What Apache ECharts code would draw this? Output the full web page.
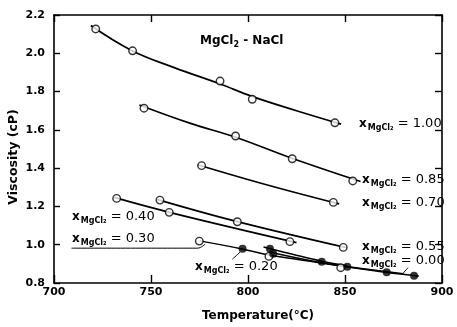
<!DOCTYPE html>
<html><head><meta charset="utf-8">
<script src="https://cdn.jsdelivr.net/npm/echarts@6/dist/echarts.min.js"></script>
<style>html,body{margin:0;padding:0;background:#fff}#c{width:457px;height:327px}</style>
</head><body><div id="c"></div>
<script>
// ---- data ----
const xTicks = [700, 750, 800, 850, 900];
const yTicks = [0.8, 1.0, 1.2, 1.4, 1.6, 1.8, 2.0, 2.2];

// measured points [T(°C), viscosity(cP)]
const pts100 = [[721.5, 2.127], [740.5, 2.013], [785.6, 1.855], [802.2, 1.760], [844.8, 1.637]];
const pts085 = [[746.4, 1.713], [793.6, 1.568], [822.8, 1.449], [854.0, 1.333]];
const pts070 = [[776.1, 1.413], [844.0, 1.221]];
const pts055 = [[754.6, 1.233], [794.5, 1.120], [849.1, 0.986]];
const pts040 = [[732.3, 1.242], [759.4, 1.169], [821.6, 1.016]];
const pts030 = [[774.9, 1.019], [810.8, 0.939], [847.8, 0.880]];
const pts020 = [[797.2, 0.979], [811.3, 0.979]];
const pts000 = [[813.0, 0.953], [838.0, 0.911], [851.2, 0.885], [871.5, 0.856], [885.6, 0.838]];

// fitted curves as drawn in the reference
const fit100 = [[719, 2.145], [740, 2.015], [762, 1.925], [785, 1.842], [802, 1.775], [825, 1.700], [848, 1.630]];
const fit085 = [[744, 1.730], [770, 1.635], [794, 1.560], [823, 1.450], [858, 1.330]];
const fit070 = [[774, 1.418], [810, 1.312], [847, 1.213]];
const fit055 = [[753, 1.237], [794, 1.122], [851, 0.984]];
const fit040 = [[731, 1.247], [760, 1.168], [825, 1.011]];
const fit030 = [[775, 1.020], [797, 0.978], [811, 0.946], [838, 0.905], [848, 0.890], [880, 0.848]];
const fit020 = [[808, 0.988], [823, 0.950], [838, 0.914], [851, 0.890]];
const fit000 = [[811, 0.962], [838, 0.906], [871, 0.856], [888, 0.836]];
const lead030 = [[709, 0.982], [774, 0.982], [778, 1.004]];
const lead020 = [[792, 0.925], [796, 0.962]];
const lead000 = [[879.5, 0.846], [882.5, 0.880]];

const labelValues = ['1.00', '0.85', '0.70', '0.55', '0.00', '0.40', '0.30', '0.20'];
const titleText = 'MgCl₂ - NaCl';
const xName = 'Temperature(°C)';
const yName = 'Viscosity (cP)';

// ---- chart ----
const FONT = 'DejaVu Sans';
const chart = echarts.init(document.getElementById('c'), null, {renderer: 'canvas'});

function lineS(data, w) {
  return {type: 'line', data: data, smooth: 0.4, showSymbol: false, symbol: 'none',
    lineStyle: {color: '#000', width: w || 1.7}, silent: true, z: 2, xAxisIndex: 0, yAxisIndex: 0};
}
function openS(data) {
  return {type: 'scatter', data: data, symbol: 'circle', symbolSize: 7.5,
    itemStyle: {color: '#fff', borderColor: '#000', borderWidth: 1.4}, z: 5, xAxisIndex: 0, yAxisIndex: 0};
}
function fillS(data) {
  return {type: 'scatter', data: data, symbol: 'circle', symbolSize: 8,
    itemStyle: {color: '#000'}, z: 5, xAxisIndex: 0, yAxisIndex: 0};
}

const rich = {
  x: {fontFamily: FONT, fontSize: 12, fontWeight: 'bold', fill: '#000', padding: [0, 1, 0, 0]},
  s: {fontFamily: FONT, fontSize: 8, fontWeight: 'bold', fill: '#000', padding: [8, 0, 0, 0]},
  v: {fontFamily: FONT, fontSize: 13, fill: '#000'}
};
function lbl(val, x, y) {
  return {type: 'text', x: x, y: y, z: 10,
    style: {text: '{x|x}{s|MgCl₂}{v| = ' + val + '}', rich: rich, verticalAlign: 'middle', fill: '#000'}};
}
const lblPos = [[359, 124], [362, 180], [362, 203], [362, 247], [362, 261], [72, 217], [72, 239], [195, 267]];

const axisLine = {show: true, lineStyle: {color: '#000', width: 1.6}};
const option = {
  animation: false,
  backgroundColor: '#fff',
  grid: {left: 54, right: 15, top: 15, bottom: 44, containLabel: false},
  xAxis: [
    {type: 'value', min: xTicks[0], max: xTicks[xTicks.length - 1], interval: 50, position: 'bottom',
      axisLine: axisLine, axisTick: {show: true, inside: true, length: 8, lineStyle: {color: '#000', width: 1.4}},
      axisLabel: {color: '#000', fontFamily: FONT, fontSize: 11, fontWeight: 'bold', margin: 4,
        showMinLabel: true, showMaxLabel: true},
      splitLine: {show: false}},
    {type: 'value', min: xTicks[0], max: xTicks[xTicks.length - 1], interval: 50, position: 'top',
      axisLine: axisLine, axisTick: {show: true, inside: true, length: 7, lineStyle: {color: '#000', width: 1.4}},
      axisLabel: {show: false}, splitLine: {show: false}}
  ],
  yAxis: [
    {type: 'value', min: yTicks[0], max: yTicks[yTicks.length - 1], interval: 0.2, position: 'left',
      axisLine: axisLine, axisTick: {show: true, inside: true, length: 6, lineStyle: {color: '#000', width: 1.4}},
      axisLabel: {color: '#000', fontFamily: FONT, fontSize: 11, fontWeight: 'bold', margin: 9,
        formatter: v => v.toFixed(1)},
      splitLine: {show: false}},
    {type: 'value', min: yTicks[0], max: yTicks[yTicks.length - 1], interval: 0.2, position: 'right',
      axisLine: axisLine, axisTick: {show: true, inside: true, length: 7, lineStyle: {color: '#000', width: 1.4}},
      axisLabel: {show: false}, splitLine: {show: false}}
  ],
  series: [
    lineS(fit100), lineS(fit085), lineS(fit070), lineS(fit055), lineS(fit040),
    lineS(fit030, 1.5), lineS(fit020, 1.5), lineS(fit000, 1.6),
    lineS(lead030, 1.0), lineS(lead020, 1.0), lineS(lead000, 1.0),
    openS(pts100), openS(pts085), openS(pts070), openS(pts055), openS(pts040), openS(pts030),
    fillS(pts020), fillS(pts000)
  ],
  graphic: [
    {type: 'text', x: 200, y: 41, z: 10, style: {text: '{a|MgCl}{b|2}{a| - NaCl}', verticalAlign: 'middle',
      rich: {a: {fontFamily: FONT, fontSize: 12, fontWeight: 'bold', fill: '#000'},
             b: {fontFamily: FONT, fontSize: 8, fontWeight: 'bold', fill: '#000', padding: [7, 0, 0, 0]}}}},
    {type: 'text', x: 258, y: 316, z: 10, style: {text: xName, fontFamily: FONT, fontSize: 12, fontWeight: 'bold',
      fill: '#000', align: 'center', verticalAlign: 'middle'}},
    {type: 'text', x: 14, y: 157, rotation: Math.PI / 2, z: 10, style: {text: yName, fontFamily: FONT, fontSize: 12.5,
      fontWeight: 'bold', fill: '#000', align: 'center', verticalAlign: 'middle'}}
  ].concat(labelValues.map((v, i) => lbl(v, lblPos[i][0], lblPos[i][1])))
};
chart.setOption(option);
</script></body></html>
